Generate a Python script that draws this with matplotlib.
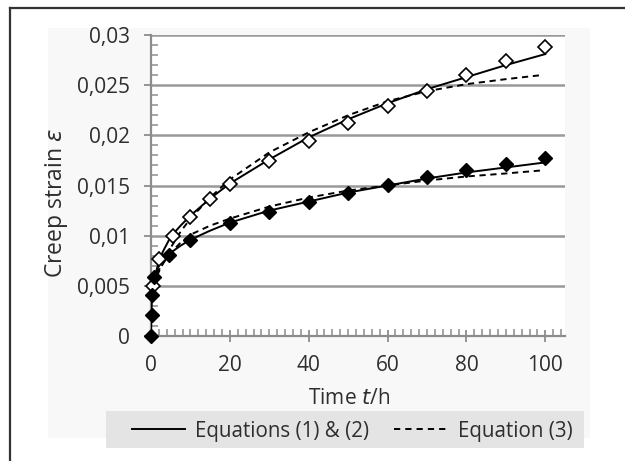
import matplotlib.pyplot as plt
from matplotlib.patches import Rectangle
from matplotlib.lines import Line2D
from matplotlib.ticker import MultipleLocator, FuncFormatter

# measured points (open = upper series, filled = lower series)
t_open = [0.5, 2, 5.5, 10, 15, 20, 30, 40, 50, 60, 70, 80, 90, 100]
eps_open = [0.0050, 0.0077, 0.0100, 0.0119, 0.01365, 0.0151, 0.01747, 0.01947,
            0.02126, 0.02292, 0.02442, 0.0260, 0.0274, 0.02883]

t_fill = [0, 0.2, 0.2, 0.7, 4.5, 10, 20, 30, 40, 50, 60, 70, 80, 90, 100]
eps_fill = [0.0, 0.0021, 0.0041, 0.0059, 0.0081, 0.00957, 0.01123, 0.01239,
            0.01332, 0.01422, 0.01505, 0.01588, 0.01654, 0.01714, 0.01777]

# fitted curves
t_fit = [0, 0.1, 0.25, 0.5, 1, 2, 3, 5, 7.5, 10, 15, 20, 30, 40, 50, 60, 70, 80, 90, 100]
eq12_open = [0.0, 0.0028, 0.0040, 0.0050, 0.0060, 0.0074, 0.0084, 0.0099, 0.0110, 0.0120,
             0.0137, 0.0152, 0.0176, 0.0198, 0.0216, 0.0232, 0.0246, 0.0258, 0.0270, 0.0281]
eq12_fill = [0.0, 0.0030, 0.0043, 0.0053, 0.0061, 0.0070, 0.0076, 0.0083, 0.0090, 0.0096,
             0.0105, 0.0113, 0.0125, 0.0134, 0.0143, 0.0150, 0.0157, 0.0163, 0.0168, 0.0173]

t_eq3 = [0.5, 1, 2, 3, 5, 7.5, 10, 15, 20, 30, 40, 50, 60, 70, 80, 90, 99]
eq3_open = [0.0050, 0.0055, 0.0064, 0.0072, 0.0088, 0.0104, 0.0117, 0.0138, 0.0156, 0.0183,
            0.0203, 0.0220, 0.0234, 0.0244, 0.0251, 0.0256, 0.0260]
eq3_fill = [0.0052, 0.0058, 0.0066, 0.0072, 0.0083, 0.0093, 0.0101, 0.0110, 0.0117, 0.0129,
            0.0138, 0.0145, 0.0150, 0.0155, 0.0159, 0.0162, 0.0165]

legend_labels = ["Equations (1) & (2)", "Equation (3)"]

plt.rcParams['font.family'] = ['Open Sans', 'DejaVu Sans']
text_col = "#2e2e2e"
W, H = 625, 461

fig = plt.figure(figsize=(6.25, 4.61), dpi=100)

# faint chart background, legend band and the frame
fig.patches.append(Rectangle((48 / W, 1 - 438 / H), 542 / W, 410 / H,
                             transform=fig.transFigure, facecolor="#f8f8f8",
                             edgecolor="none", zorder=-2))
fig.patches.append(Rectangle((106 / W, 1 - 448 / H), 478 / W, 37 / H,
                             transform=fig.transFigure, facecolor="#e4e4e4",
                             edgecolor="none", zorder=-1))
fig.add_artist(Line2D([10 / W, 10 / W], [0, 1 - 8 / H], transform=fig.transFigure,
                      color="#333333", lw=1.6))
fig.add_artist(Line2D([10 / W, 1], [1 - 8 / H, 1 - 8 / H], transform=fig.transFigure,
                      color="#333333", lw=1.6))

ax = fig.add_axes([151 / W, 1 - 336 / H, 414 / W, 301 / H])
ax.set_facecolor("white")

ax.plot(t_fit, eq12_open, color="black", lw=1.4, zorder=3)
ax.plot(t_fit, eq12_fill, color="black", lw=1.4, zorder=3)
ax.plot(t_eq3, eq3_open, color="black", lw=1.4, ls=(0, (3.2, 2.4)), zorder=3)
ax.plot(t_eq3, eq3_fill, color="black", lw=1.4, ls=(0, (3.2, 2.4)), zorder=3)

ax.plot(t_open, eps_open, ls="none", marker="D", ms=7.3, mfc="white", mec="black",
        mew=1.2, zorder=4, clip_on=False)
ax.plot(t_fill, eps_fill, ls="none", marker="D", ms=7.3, mfc="black", mec="black",
        zorder=4, clip_on=False)

ax.set_xlim(0, 105)
ax.set_ylim(0, 0.03)

ax.xaxis.set_major_locator(MultipleLocator(20))
ax.xaxis.set_minor_locator(MultipleLocator(2))
ax.yaxis.set_major_locator(MultipleLocator(0.005))
ax.yaxis.set_minor_locator(MultipleLocator(0.001))

ax.yaxis.set_major_formatter(FuncFormatter(lambda v, p: "0" if v == 0 else f"{v:g}".replace(".", ",")))
ax.xaxis.set_major_formatter(FuncFormatter(lambda v, p: "" if v > 100 else f"{v:g}"))

ax.grid(axis="y", which="major", color="#999999", lw=1.8)
ax.set_axisbelow(True)

for side in ["top", "right"]:
    ax.spines[side].set_visible(False)
for side in ["left", "bottom"]:
    ax.spines[side].set_color("#8c8c8c")
    ax.spines[side].set_linewidth(1.6)

ax.tick_params(axis="both", which="major", labelsize=15, labelcolor=text_col,
               color="#8c8c8c", width=1.3)
ax.tick_params(axis="y", which="major", direction="out", length=5, pad=10)
ax.tick_params(axis="x", which="major", direction="inout", length=8, pad=10)
ax.tick_params(axis="both", which="minor", direction="in", length=5,
               color="#8c8c8c", width=1.1)

# axis titles
fig.text(56 / W, 1 - 203 / H, r"Creep strain $\it{\varepsilon}$", rotation=90,
         fontsize=16.5, color=text_col, ha="center", va="center")
fig.text(349 / W, 1 - 398 / H, r"Time $\it{t}$/h", fontsize=15, color=text_col,
         ha="center", va="center")

handles = [Line2D([], [], color="black", lw=1.4),
           Line2D([], [], color="black", lw=1.4, ls=(0, (3.2, 2.6)))]
leg = fig.legend(handles, legend_labels, ncol=2,
                 loc="center", bbox_to_anchor=(352 / W, 1 - 431 / H),
                 frameon=False, fontsize=14.8, handlelength=2.6, handletextpad=0.5,
                 columnspacing=1.2, labelcolor=text_col)

fig.savefig("out.png", dpi=100)
